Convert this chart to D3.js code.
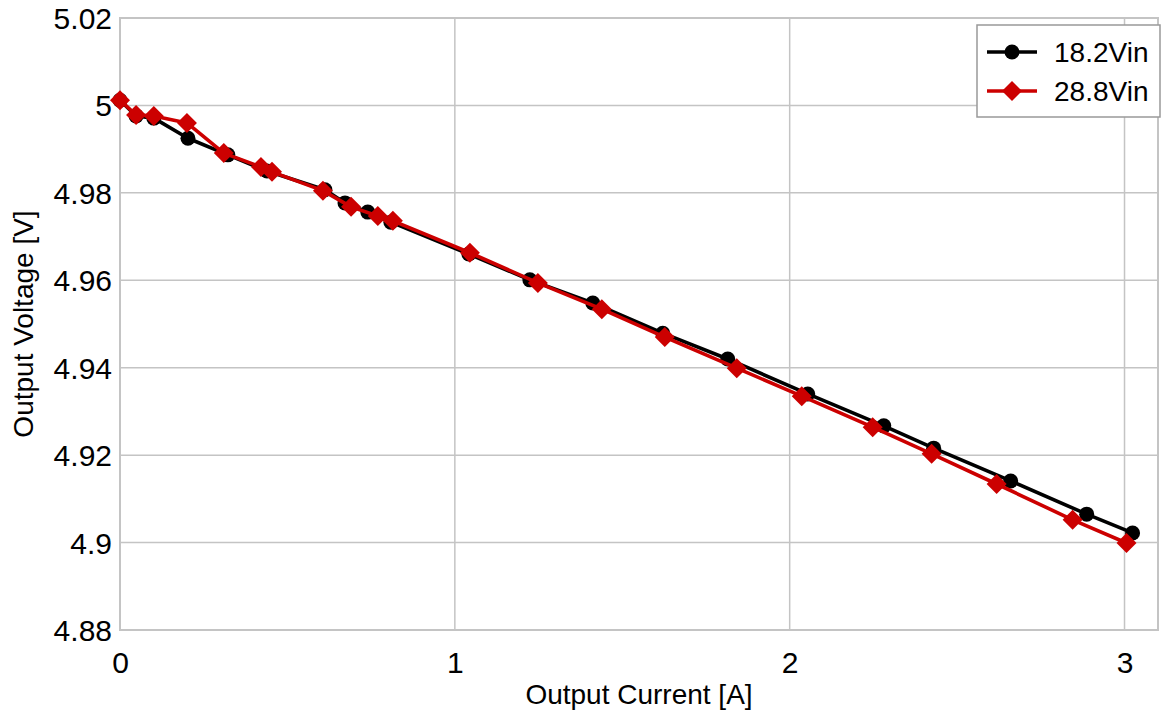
<!DOCTYPE html>
<html>
<head>
<meta charset="utf-8">
<script src="https://cdn.jsdelivr.net/npm/d3@7"></script>
<style>
  html, body { margin: 0; padding: 0; background: #fff; }
  svg { display: block; font-family: "Liberation Sans", Arial, sans-serif; }
</style>
</head>
<body>
<svg id="chart" width="1161" height="717"></svg>
<script>
// Load regulation: output voltage versus output current at two input voltages
const current182 = [0, 0.048, 0.101, 0.203, 0.322, 0.439, 0.612, 0.672, 0.740, 0.809, 1.042, 1.224, 1.412, 1.621, 1.815, 2.054, 2.281, 2.430, 2.660, 2.887, 3.024];
const voltage182 = [5.0012, 4.9976, 4.9971, 4.9925, 4.9887, 4.9850, 4.9807, 4.9777, 4.9756, 4.9733, 4.9660, 4.9601, 4.9548, 4.9479, 4.9420, 4.9340, 4.9267, 4.9216, 4.9141, 4.9065, 4.9022];

const current288 = [0, 0.048, 0.101, 0.200, 0.310, 0.421, 0.454, 0.606, 0.690, 0.770, 0.815, 1.045, 1.248, 1.439, 1.627, 1.842, 2.036, 2.248, 2.424, 2.618, 2.845, 3.006];
const voltage288 = [5.0012, 4.9978, 4.9976, 4.9960, 4.9891, 4.9859, 4.9848, 4.9805, 4.9768, 4.9747, 4.9736, 4.9663, 4.9594, 4.9534, 4.9470, 4.9399, 4.9335, 4.9264, 4.9203, 4.9134, 4.9052, 4.8999];

const xTicks = [0, 1, 2, 3];
const yTicks = [4.88, 4.9, 4.92, 4.94, 4.96, 4.98, 5, 5.02];
const seriesNames = ["18.2Vin", "28.8Vin"];

(function () {
  const series = [
    { name: seriesNames[0], color: "#000000", marker: "circle",
      points: current182.map((x, i) => ({ x, y: voltage182[i] })) },
    { name: seriesNames[1], color: "#cc0000", marker: "diamond",
      points: current288.map((x, i) => ({ x, y: voltage288[i] })) }
  ];

  const svg = d3.select("#chart");
  const plotLeft = 120, plotRight = 1158, plotTop = 18, plotBottom = 630;

  const x = d3.scaleLinear().domain([0, 3.1]).range([plotLeft, plotRight]);
  const y = d3.scaleLinear().domain([4.88, 5.02]).range([plotBottom, plotTop]);

  const gridColor = "#c4c4c4";

  // Grid lines
  svg.append("g").selectAll("line").data(xTicks).join("line")
    .attr("x1", d => x(d)).attr("x2", d => x(d))
    .attr("y1", plotTop).attr("y2", plotBottom)
    .attr("stroke", gridColor).attr("stroke-width", 1.5);
  svg.append("g").selectAll("line").data(yTicks).join("line")
    .attr("x1", plotLeft).attr("x2", plotRight)
    .attr("y1", d => y(d)).attr("y2", d => y(d))
    .attr("stroke", gridColor).attr("stroke-width", 1.5);

  // Plot frame
  svg.append("rect")
    .attr("x", plotLeft).attr("y", plotTop)
    .attr("width", plotRight - plotLeft).attr("height", plotBottom - plotTop)
    .attr("fill", "none").attr("stroke", gridColor).attr("stroke-width", 2);

  // Axes (labels only; lines come from the grid and frame)
  const xAxis = d3.axisBottom(x).tickValues(xTicks).tickSize(0).tickPadding(0).tickFormat(d3.format("~g"));
  const gx = svg.append("g").attr("transform", `translate(0,${plotBottom})`).call(xAxis);
  gx.select(".domain").remove();
  gx.attr("font-family", null).attr("font-size", null);
  gx.selectAll("text").attr("font-size", 30).attr("fill", "#000")
    .attr("dy", null).attr("y", 43);

  const yAxis = d3.axisLeft(y).tickValues(yTicks).tickSize(0).tickPadding(8).tickFormat(d3.format("~g"));
  const gy = svg.append("g").attr("transform", `translate(${plotLeft},0)`).call(yAxis);
  gy.select(".domain").remove();
  gy.attr("font-family", null).attr("font-size", null);
  gy.selectAll("text").attr("font-size", 30).attr("fill", "#000")
    .attr("dy", "0.35em");

  // Axis titles
  svg.append("text")
    .attr("x", (plotLeft + plotRight) / 2).attr("y", 704)
    .attr("text-anchor", "middle").attr("font-size", 28).attr("fill", "#000")
    .text("Output Current [A]");
  svg.append("text")
    .attr("transform", `translate(33,${(plotTop + plotBottom) / 2}) rotate(-90)`)
    .attr("text-anchor", "middle").attr("font-size", 28).attr("fill", "#000")
    .text("Output Voltage [V]");

  // Series lines and markers
  const line = d3.line().x(d => x(d.x)).y(d => y(d.y));

  function drawMarker(g, s) {
    if (s.marker === "circle") {
      g.append("circle").attr("r", 7.5).attr("fill", s.color);
    } else {
      g.append("path").attr("d", "M0,-10L10,0L0,10L-10,0Z").attr("fill", s.color);
    }
  }

  series.forEach(s => {
    const g = svg.append("g");
    g.append("path").datum(s.points)
      .attr("d", line).attr("fill", "none")
      .attr("stroke", s.color).attr("stroke-width", 3.6)
      .attr("stroke-linejoin", "round");
    g.selectAll("g.pt").data(s.points).join("g")
      .attr("class", "pt")
      .attr("transform", d => `translate(${x(d.x)},${y(d.y)})`)
      .each(function () { drawMarker(d3.select(this), s); });
  });

  // Legend
  const lg = svg.append("g");
  lg.append("rect")
    .attr("x", 977).attr("y", 25).attr("width", 183).attr("height", 92)
    .attr("fill", "#fff").attr("stroke", "#999").attr("stroke-width", 1.5);
  series.forEach((s, i) => {
    const cy = 52 + i * 39;
    lg.append("line").attr("x1", 987).attr("x2", 1037).attr("y1", cy).attr("y2", cy)
      .attr("stroke", s.color).attr("stroke-width", 3.6);
    const m = lg.append("g").attr("transform", `translate(1012,${cy})`);
    drawMarker(m, s);
    lg.append("text").attr("x", 1054).attr("y", cy).attr("dy", "0.35em")
      .attr("font-size", 28).attr("fill", "#000").text(s.name);
  });
})();
</script>
</body>
</html>
